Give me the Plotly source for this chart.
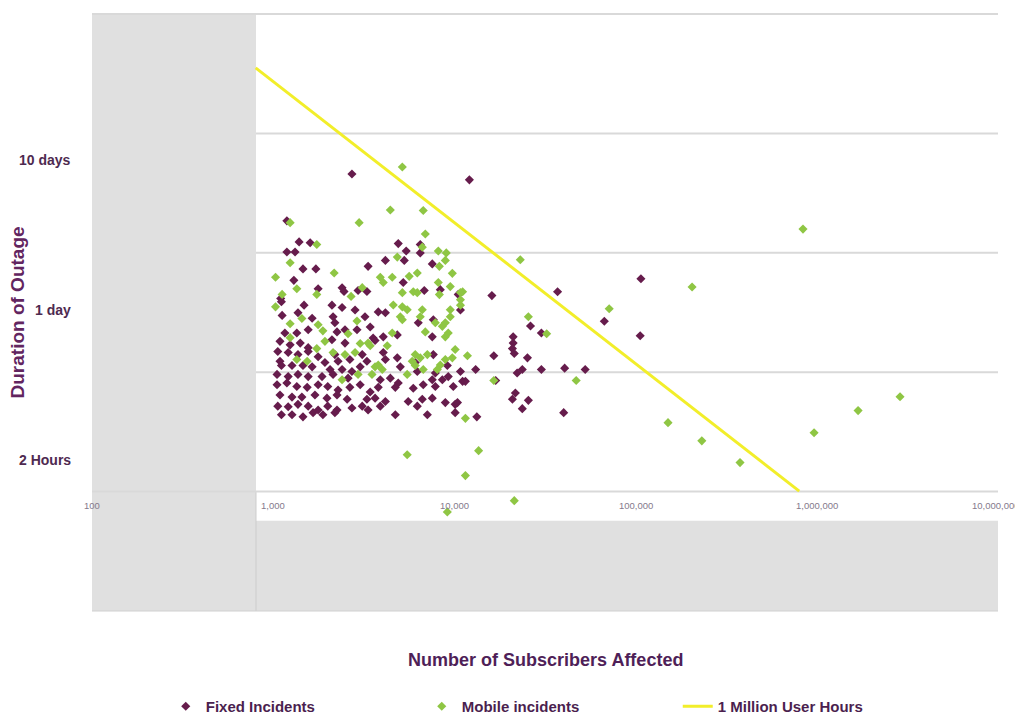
import math
import plotly.graph_objects as go

# ---------------- data ----------------
fixed_subscribers = [
    2720, 12100, 1190, 1390, 1600, 1190, 1320, 1460, 1720, 1300, 1770, 2400, 2460, 2940, 1100,
    1110, 1480, 2110, 2400, 2830, 1370, 1120, 1640, 2140, 2190, 3210,
    1160, 1350, 1560, 2250, 2490, 2900,
    1090, 1240, 1410, 2110, 2490, 1560,
    1060, 1210, 1370, 1560, 1770, 2190, 3100,
    1090, 1930, 2280, 2650,
    1110, 1270, 1460, 1640, 2060, 2400, 2720, 3020,
    1050, 1210, 1370, 1560, 1860, 2140, 2590,
    1050, 1190, 1350, 1540, 1770, 2000, 2280, 2650, 3020,
    1090, 1270, 1440, 1700, 1980, 2250, 2560,
    1060, 1210, 1370, 1560, 1770, 2000, 2250, 2720, 3100,
    1110, 1270, 1460, 1660, 1880, 2190,
    4900, 6480, 5420, 6480, 3340, 4160, 5290, 7550, 5220, 3290, 6820, 8360, 10500,
    3800, 4160, 6320, 7650, 10800, 3430, 4840, 3560, 3650, 4050, 7550,
    3290, 4050, 4160, 4840, 7650, 6080, 9140, 5030, 6240, 7850, 9250, 10800,
    3900, 4430, 4900, 7550, 8580,
    3800, 3430, 4720, 5930, 6730, 7850, 9860, 11100,
    3290, 3650, 4160, 5560, 6650, 7550, 8910, 10100,
    3340, 3900, 6240, 4720, 7090, 10100,
    16100, 37100, 26300, 30200, 67200, 21100, 21100, 20900, 21400, 16500, 25300,
    13100, 23700, 22200, 30200, 40600, 52700, 11500, 16900, 21700, 20900, 25600, 23700, 40100, 13300, 10400,
    107000, 106000,
]
fixed_hours = [
    221, 201, 103, 73, 72, 62, 62, 47, 47, 39, 34, 34.5, 32.5, 33, 29,
    27.5, 26, 26, 25, 24, 23, 22, 21, 21.5, 19.5, 21.5,
    16.5, 16.5, 17.4, 16.8, 17.4, 17.4,
    14.4, 13.6, 14.0, 14.8, 14.0, 13.0,
    12.2, 12.0, 11.6, 12.2, 11.2, 11.6, 11.6,
    10.4, 10.2, 10.4, 10.7,
    9.7, 9.7, 9.7, 9.5, 9.1, 9.1, 8.8, 9.5,
    8.4, 8.1, 8.4, 8.1, 8.1, 8.4, 7.9,
    7.1, 7.3, 6.9, 6.8, 7.1, 6.9, 6.5, 6.8, 7.1,
    6.0, 5.8, 5.8, 6.0, 5.7, 6.0, 5.6,
    5.0, 4.95, 5.15, 5.0, 4.7, 5.0, 4.7, 4.85, 5.0,
    4.35, 4.35, 4.2, 4.5, 4.35, 4.5,
    71, 70, 63, 61, 49, 54, 54, 51, 37.6, 32.5, 33, 33.5, 31,
    23.3, 23, 19.5, 20.5, 24, 18.2, 16, 15.2, 14.6, 15.5, 15.5,
    10.4, 12.0, 10.7, 11.0, 11.6, 10.2, 9.7, 9.5, 8.8, 8.6, 8.1, 8.8,
    7.7, 7.9, 7.3, 7.7, 7.7,
    6.8, 6.3, 6.8, 6.7, 7.1, 6.9, 6.9, 7.5,
    5.6, 5.7, 5.4, 5.4, 5.6, 5.7, 5.3, 5.15,
    4.7, 5.0, 5.0, 4.35, 4.35, 4.5,
    30.4, 32.4, 18.5, 16.5, 20, 15.5, 14.0, 12.8, 11.8, 11.4, 11.0,
    9.1, 9.1, 8.6, 9.1, 9.3, 9.1, 7.5, 7.6, 6.2, 5.6, 5.5, 4.8, 4.5, 4.2, 5.3,
    40, 15.8,
]

mobile_subscribers = [
    1240, 2980, 1740, 1240, 2170, 1030, 1350, 3100, 1120, 1740, 2690,
    1030, 1440, 2900, 1240, 1770, 1880, 2590, 1240, 1930, 1740, 3020, 2140, 2490, 2830, 1350, 1540, 2400, 2940,
    5160, 4430, 6730,
    6910, 6650, 8150, 9020, 4840, 8260, 8910, 6240, 5630, 9740, 3900, 4050, 4540, 8150, 9490, 5160, 5930, 6240, 8260, 11100,
    4600, 5160, 5490, 5030, 5160, 6650, 6480, 7850, 8580, 8910, 9490, 9490, 10800,
    4540, 4260, 3340, 3430, 6910, 8910, 9250, 10100,
    3800, 3650, 4000, 6080, 6480, 7090, 5850, 6080, 6730, 8360, 8910, 9740, 8050, 3510, 5490,
    23100, 10800, 10800, 25600, 32300, 71500, 11800, 16500, 47000, 11500, 13600, 11500, 21400, 9140, 5490,
    205000, 839000, 151000, 232000, 377000, 966000, 1690000, 2880000,
]
mobile_hours = [
    100, 100, 70, 52, 44, 41, 34, 34.6, 31, 31, 30,
    25.3, 20.9, 20.1, 19.2, 18.9, 17.1, 16.3, 15.3, 14.4, 12.8, 13.9, 12.0, 11.6, 12.0, 10.7, 10.4, 7.7, 8.4,
    248, 123, 122,
    83, 67, 63, 61, 57, 49, 54, 44, 41.6, 43.7, 41, 37.6, 41, 37.6, 35.2, 31.9, 32.4, 31.9, 30.9, 32.4,
    26.1, 25.3, 24.1, 21.5, 20.5, 24.1, 21.5, 19.5, 18.4, 19.5, 24.1, 21.5, 26,
    16.5, 13.4, 14, 13.4, 16.8, 15.5, 16.5, 12.6,
    9.8, 9.5, 9.1, 11.6, 11.0, 11.6, 10.4, 9.7, 9.1, 9.8, 10.7, 11.0, 9.1, 8.4, 8.4,
    54.6, 32, 28.4, 21.5, 16.3, 24.5, 11.4, 7.6, 7.6, 4.1, 2.42, 1.61, 1.07, 0.89, 2.26,
    35, 90, 3.82, 2.84, 1.99, 3.24, 4.65, 5.83,
]

# 1 million user hours reference line
line_subscribers = [800, 800000]
line_hours = [1250, 1.25]

x_tick_values = [100, 1000, 10000, 100000, 1000000, 10000000]
x_tick_labels = ["100", "1,000", "10,000", "100,000", "1,000,000", "10,000,000"]
y_label_values = [240, 24, 2]
y_label_texts = ["10 days", "1 day", "2 Hours"]

# ---------------- styling ----------------
PURPLE = "#661c4c"
GREEN = "#8fc644"
YELLOW = "#f2ee2a"
GREY = "#e0e0e0"
GRID = "#d9d9d9"
FONT = "Liberation Sans"

fig = go.Figure()
fig.add_trace(go.Scatter(
    x=fixed_subscribers, y=fixed_hours, mode="markers", name="Fixed Incidents",
    marker=dict(symbol="diamond", size=7, color=PURPLE),
))
fig.add_trace(go.Scatter(
    x=mobile_subscribers, y=mobile_hours, mode="markers", name="Mobile incidents",
    marker=dict(symbol="diamond", size=7, color=GREEN),
))
fig.add_trace(go.Scatter(
    x=line_subscribers, y=line_hours, mode="lines", name="1 Million User Hours",
    line=dict(color=YELLOW, width=3),
))

split = 0.181  # left grey panel edge (paper)
shapes = [
    dict(type="rect", xref="paper", yref="paper", x0=0, x1=split, y0=0, y1=1,
         fillcolor=GREY, line=dict(width=0), layer="below"),
    dict(type="rect", xref="paper", yref="paper", x0=split, x1=1, y0=0, y1=0.151,
         fillcolor=GREY, line=dict(width=0), layer="below"),
    dict(type="line", xref="paper", yref="paper", x0=split, x1=split, y0=0, y1=0.2,
         line=dict(color="#cccccc", width=1), layer="below"),
    dict(type="line", xref="paper", yref="paper", x0=0, x1=1, y0=0, y1=0,
         line=dict(color="#d0d0d0", width=1), layer="below"),
]
for gy, gx0 in [(1.0, 0), (0.8, split), (0.6, split), (0.4, split), (0.2, 0)]:
    shapes.append(dict(type="line", xref="paper", yref="paper", x0=gx0, x1=1, y0=gy, y1=gy,
                       line=dict(color=GRID, width=2), layer="below"))

annotations = []
for v, t in zip(x_tick_values, x_tick_labels):
    shift = -2 if v == x_tick_values[-1] else 0
    annotations.append(dict(x=math.log10(v), y=0.176, xref="x", yref="paper", text=t,
                            showarrow=False, xanchor="center", yanchor="middle", xshift=shift,
                            font=dict(family=FONT, size=9.5, color="#857a8c")))
for v, t, shift in zip(y_label_values, y_label_texts, [9, 0, 2]):
    annotations.append(dict(x=-0.021, y=math.log10(v), xref="paper", yref="y", text=t,
                            showarrow=False, xanchor="right", yanchor="middle", yshift=shift,
                            font=dict(family=FONT, size=14, color="#4e2a50", weight="bold")))
annotations.append(dict(x=-0.0817, y=0.5, xref="paper", yref="paper", text="Duration of Outage",
                        textangle=-90, showarrow=False, xanchor="center", yanchor="middle",
                        font=dict(family=FONT, size=19, color="#62255f", weight="bold")))
annotations.append(dict(x=0.5, y=-0.082, xref="paper", yref="paper", text="Number of Subscribers Affected",
                        showarrow=False, xanchor="center", yanchor="middle",
                        font=dict(family=FONT, size=18, color="#4f1f58", weight="bold")))

# page body has an 8px margin, so the figure is a bit smaller than the window
fig.update_layout(
    width=1015, height=707,
    margin=dict(l=84, r=25, t=6, b=104, autoexpand=False),
    plot_bgcolor="white", paper_bgcolor="white",
    xaxis=dict(type="log", range=[2, 7], showgrid=False, zeroline=False,
               showticklabels=False, showline=False, ticks=""),
    yaxis=dict(type="log", range=[-0.753, 3.479], showgrid=False, zeroline=False,
               showticklabels=False, showline=False, ticks=""),
    legend=dict(orientation="h", x=0.0814, y=-0.16, xanchor="left", yanchor="middle",
                entrywidth=211, entrywidthmode="pixels", bgcolor="rgba(0,0,0,0)",
                itemwidth=30, tracegroupgap=0,
                font=dict(family=FONT, size=15, color="#4b1f4f", weight="bold")),
    shapes=shapes,
    annotations=annotations,
    showlegend=True,
)

fig.write_html("out.html")
